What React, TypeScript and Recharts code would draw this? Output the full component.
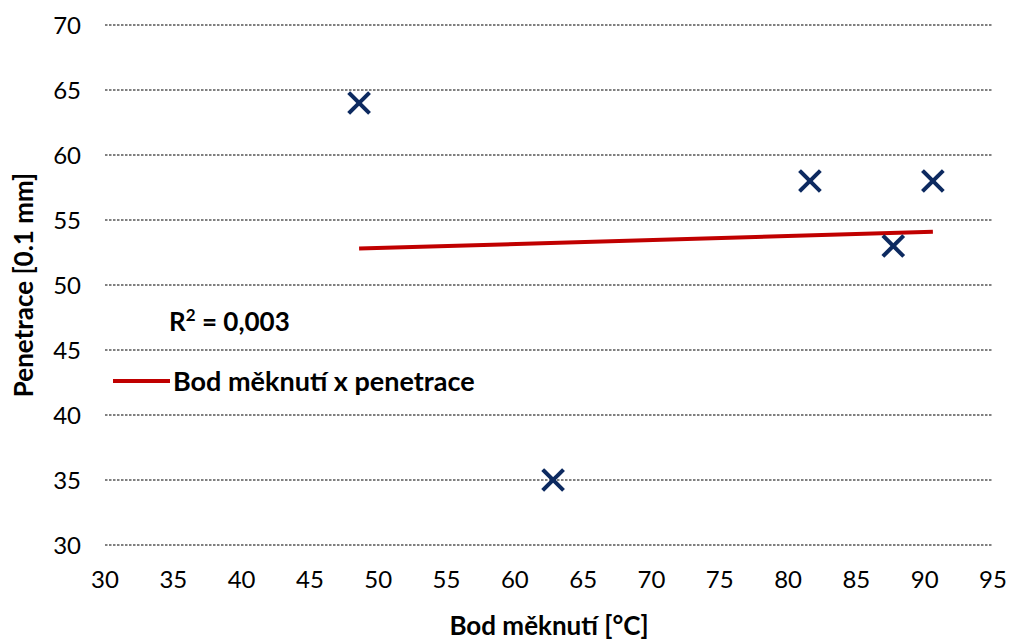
import React from 'react';
import { ScatterChart, Scatter, XAxis, YAxis, CartesianGrid, Legend } from 'recharts';

// měřené body: bod měknutí [°C] vs penetrace [0.1 mm]
const softeningPoint = [48.6, 62.8, 81.6, 87.7, 90.6];
const penetration = [64, 35, 58, 53, 58];

// lineární trend (koncové body)
const trendX = [48.6, 90.6];
const trendY = [52.8, 54.1];

const xTicks = [30, 35, 40, 45, 50, 55, 60, 65, 70, 75, 80, 85, 90, 95];
const yTicks = [30, 35, 40, 45, 50, 55, 60, 65, 70];

const seriesName = 'Bod měknutí x penetrace';

const points = softeningPoint.map((x, i) => ({ x, y: penetration[i] }));
const trend = trendX.map((x, i) => ({ x, y: trendY[i] }));

const FONT = "Lato, 'Open Sans', sans-serif";

const Cross = (props: any) => {
    const { cx, cy } = props;
    const s = 9;
    return (
        <g stroke="#0d2a60" strokeWidth={4} strokeLinecap="square">
            <line x1={cx - s} y1={cy - s} x2={cx + s} y2={cy + s} />
            <line x1={cx - s} y1={cy + s} x2={cx + s} y2={cy - s} />
        </g>
    );
};

const LegendBox = () => (
    <div style={{ position: 'relative', width: 400, height: 100, fontFamily: FONT, fontWeight: 700, color: '#000' }}>
        <div style={{ position: 'absolute', left: 56, top: 0, fontSize: 26, lineHeight: '30px', whiteSpace: 'nowrap' }}>
            R<sup style={{ fontSize: 17, verticalAlign: 'top', lineHeight: '18px' }}>2</sup> = 0,003
        </div>
        <div style={{ position: 'absolute', left: 0, top: 60, display: 'flex', alignItems: 'center', fontSize: 27, lineHeight: '30px', whiteSpace: 'nowrap' }}>
            <span style={{ display: 'inline-block', width: 57, height: 4, background: '#c00000', marginRight: 3 }} />
            {seriesName}
        </div>
    </div>
);

const App: React.FC = () => {
    return (
        <div style={{ position: 'absolute', left: 0, top: 0 }}>
            <ScatterChart width={1010} height={640} margin={{ top: 25, right: 17, left: 20, bottom: 0 }}>
                <CartesianGrid horizontal vertical={false} stroke="#808080" strokeWidth={2} strokeDasharray="2.5 1.5" />
                <XAxis
                    type="number"
                    dataKey="x"
                    domain={[30, 95]}
                    ticks={xTicks}
                    interval={0}
                    axisLine={false}
                    tickLine={false}
                    tickSize={0}
                    tickMargin={26}
                    height={95}
                    tick={{ fill: '#000', fontSize: 24, fontFamily: FONT }}
                    label={{
                        value: 'Bod měknutí [°C]',
                        position: 'insideBottom',
                        offset: 5,
                        style: { fill: '#000', fontSize: 26, fontWeight: 700, fontFamily: FONT },
                    }}
                />
                <YAxis
                    type="number"
                    dataKey="y"
                    domain={[30, 70]}
                    ticks={yTicks}
                    interval={0}
                    axisLine={false}
                    tickLine={false}
                    tickSize={0}
                    tickMargin={24}
                    width={85}
                    tick={{ fill: '#000', fontSize: 24, fontFamily: FONT }}
                    label={{
                        value: 'Penetrace [0.1 mm]',
                        angle: -90,
                        position: 'insideLeft',
                        offset: 0,
                        dx: 4,
                        style: { textAnchor: 'middle', fill: '#000', fontSize: 26, fontWeight: 700, fontFamily: FONT },
                    }}
                />
                <Legend
                    layout="horizontal"
                    verticalAlign="middle"
                    align="center"
                    content={() => <LegendBox />}
                    wrapperStyle={{ position: 'absolute', left: 113, top: 306, width: 400, height: 100, pointerEvents: 'none' }}
                />
                <Scatter
                    name={seriesName}
                    data={trend}
                    line={{ stroke: '#c00000', strokeWidth: 4 }}
                    shape={() => <g />}
                    isAnimationActive={false}
                />
                <Scatter name="body" data={points} shape={Cross} isAnimationActive={false} />
            </ScatterChart>
        </div>
    );
};

export default App;
